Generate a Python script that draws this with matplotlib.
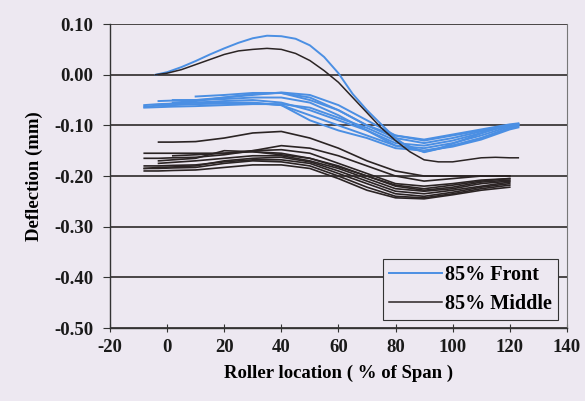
import numpy as np
import matplotlib
matplotlib.use("Agg")
import matplotlib.pyplot as plt

nan = np.nan

# roller location (% of span) for the two single high runs
high_x = [-4, 0, 5, 10, 15, 20, 25, 30, 35, 40, 45, 50, 55, 60, 65, 70,
          75, 80, 85, 90, 95, 100, 105, 110, 115, 120, 123]
front_high = [0.000, 0.005, 0.015, 0.027, 0.040, 0.052, 0.063, 0.072, 0.077, 0.076,
              0.071, 0.058, 0.035, 0.003, -0.038, -0.070, -0.098, -0.125, -0.145,
              -0.152, -0.146, -0.136, -0.126, -0.116, -0.106, -0.100, -0.098]
middle_high = [0.000, 0.003, 0.010, 0.020, 0.030, 0.040, 0.047, 0.050, 0.052, 0.050,
               0.042, 0.028, 0.008, -0.015, -0.045, -0.075, -0.105, -0.130, -0.152,
               -0.168, -0.172, -0.172, -0.168, -0.164, -0.163, -0.164, -0.164]

# the remaining runs
front_x = [-8, -3, 2, 10, 20, 30, 40, 50, 60, 70, 80, 90, 100, 110, 120, 123]
front_runs = [
    [-0.065, -0.064, -0.063, -0.062, -0.060, -0.058, -0.058, -0.065, -0.085, -0.105, -0.130, -0.153, -0.140, -0.125, -0.105, -0.100],
    [nan, -0.052, -0.051, -0.050, -0.045, -0.040, -0.035, -0.040, -0.060, -0.090, -0.120, -0.130, -0.120, -0.110, -0.100, -0.097],
    [nan, nan, -0.055, -0.052, -0.045, -0.038, -0.036, -0.045, -0.070, -0.100, -0.125, -0.135, -0.125, -0.112, -0.100, -0.098],
    [-0.060, -0.058, -0.057, -0.055, -0.055, -0.055, -0.060, -0.080, -0.100, -0.120, -0.140, -0.145, -0.135, -0.120, -0.102, -0.100],
    [nan, -0.060, -0.057, -0.055, -0.052, -0.050, -0.055, -0.070, -0.090, -0.110, -0.135, -0.140, -0.130, -0.115, -0.100, -0.098],
    [nan, nan, -0.050, -0.050, -0.048, -0.045, -0.045, -0.055, -0.080, -0.110, -0.140, -0.150, -0.140, -0.125, -0.105, -0.102],
    [-0.063, -0.061, -0.060, -0.058, -0.057, -0.056, -0.060, -0.090, -0.110, -0.125, -0.145, -0.150, -0.142, -0.128, -0.108, -0.104],
    [nan, nan, nan, -0.043, -0.040, -0.036, -0.036, -0.050, -0.070, -0.100, -0.120, -0.128, -0.118, -0.108, -0.098, -0.096],
]

middle_x = [-8, -3, 2, 10, 20, 30, 40, 50, 60, 70, 80, 90, 100, 110, 120]
middle_runs = [
    [nan, -0.133, -0.133, -0.132, -0.125, -0.115, -0.112, -0.125, -0.145, -0.170, -0.190, -0.200, -0.200, -0.200, -0.200],
    [-0.155, -0.155, -0.155, -0.155, -0.155, -0.150, -0.140, -0.145, -0.160, -0.180, -0.200, -0.210, -0.205, -0.200, -0.200],
    [-0.165, -0.165, -0.164, -0.163, -0.158, -0.150, -0.148, -0.155, -0.175, -0.195, -0.215, -0.220, -0.215, -0.208, -0.205],
    [nan, -0.175, -0.173, -0.170, -0.165, -0.160, -0.160, -0.170, -0.185, -0.205, -0.225, -0.230, -0.225, -0.215, -0.210],
    [-0.180, -0.180, -0.179, -0.178, -0.172, -0.168, -0.168, -0.175, -0.195, -0.215, -0.235, -0.240, -0.232, -0.222, -0.215],
    [-0.185, -0.185, -0.184, -0.183, -0.175, -0.170, -0.172, -0.180, -0.200, -0.222, -0.240, -0.243, -0.235, -0.225, -0.218],
    [-0.190, -0.190, -0.189, -0.188, -0.183, -0.178, -0.178, -0.185, -0.205, -0.228, -0.243, -0.245, -0.237, -0.228, -0.222],
    [nan, -0.170, -0.168, -0.165, -0.150, -0.152, -0.158, -0.165, -0.180, -0.200, -0.220, -0.228, -0.222, -0.212, -0.208],
    [nan, nan, -0.160, -0.158, -0.155, -0.152, -0.155, -0.165, -0.182, -0.200, -0.218, -0.225, -0.218, -0.210, -0.205],
    [-0.185, -0.183, -0.182, -0.180, -0.170, -0.165, -0.163, -0.172, -0.190, -0.210, -0.230, -0.235, -0.228, -0.220, -0.212],
]

x_ticks = [-20, 0, 20, 40, 60, 80, 100, 120, 140]
y_ticks = [0.10, 0.00, -0.10, -0.20, -0.30, -0.40, -0.50]

bg = "#ede8f1"
blue = "#4b8fe3"
dark = "#2b2424"
fs = 13.5

plt.rcParams["font.family"] = ["Liberation Serif", "DejaVu Serif"]
plt.rcParams["font.weight"] = "bold"

fig = plt.figure(figsize=(5.85, 4.01), dpi=100, facecolor=bg)
ax = fig.add_axes([0.188, 0.182, 0.781, 0.758], facecolor=bg)

# horizontal grid lines
for yv in y_ticks:
    ax.axhline(yv, color="#3c3838", lw=1.3, zorder=1)

# front runs (blue), then middle runs (dark)
ax.plot(high_x, front_high, color=blue, lw=1.4, zorder=2, label="85% Front")
for run in front_runs:
    ax.plot(front_x, run, color=blue, lw=1.4, zorder=2)
ax.plot(high_x, middle_high, color=dark, lw=1.1, zorder=3, label="85% Middle")
for run in middle_runs:
    ax.plot(middle_x, run, color=dark, lw=1.2, zorder=3)

ax.set_xlim(-20, 140)
ax.set_ylim(-0.50, 0.10)
ax.set_xticks(x_ticks)
ax.set_yticks(y_ticks)
ax.set_xticklabels([str(v) for v in x_ticks])
ax.set_yticklabels(["%.2f" % v for v in y_ticks])
ax.tick_params(axis="both", labelsize=fs, colors="#333", labelcolor="#1a1a1a")
ax.tick_params(axis="y", direction="out", length=5, pad=7)
ax.tick_params(axis="x", direction="inout", length=6, pad=5)

for side in ["left", "bottom"]:
    ax.spines[side].set_color("#333")
    ax.spines[side].set_linewidth(1.0)
ax.spines["top"].set_visible(False)
ax.spines["right"].set_color("#777")
ax.spines["right"].set_linewidth(0.8)

ax.set_xlabel("Roller location ( % of Span )", fontsize=fs, fontweight="bold", labelpad=6)
ax.set_ylabel("Deflection (mm)", fontsize=fs, fontweight="bold", labelpad=8)

leg = ax.legend(loc="lower right", bbox_to_anchor=(0.98, 0.026), fontsize=14.5,
                frameon=True, fancybox=False, handlelength=2.6, handletextpad=0.15,
                borderpad=0.3, labelspacing=0.45, borderaxespad=0)
leg.get_frame().set_edgecolor("#333")
leg.get_frame().set_facecolor(bg)
leg.get_frame().set_linewidth(0.8)
leg.get_frame().set_alpha(1)

fig.savefig("out.png", dpi=100, facecolor=bg)
